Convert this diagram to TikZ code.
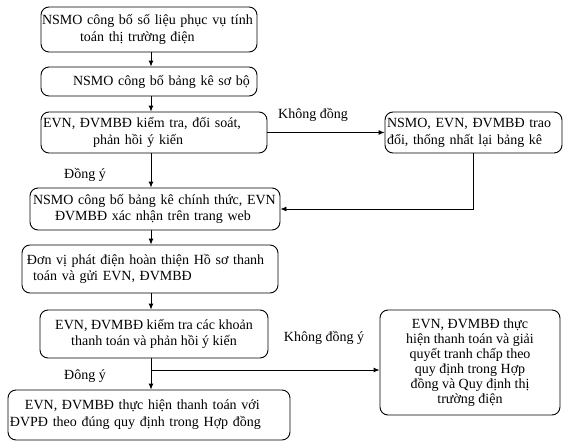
\documentclass[tikz,border=0pt]{standalone}
\usepackage{fontspec}
\setmainfont{Liberation Serif}
\usetikzlibrary{arrows.meta}
\newcommand{\tl}[2]{\hspace*{#1pt}\mbox{#2}}
\begin{document}
\begin{tikzpicture}[x=1pt,y=-1pt,
  box/.style={draw, line width=0.9pt, rounded corners=8pt, inner xsep=1pt, inner ysep=1pt,
    font=\fontsize{14}{16.8}\selectfont, align=center},
  lbox/.style={box, align=left},
  conn/.style={line width=0.9pt, -{Latex[length=6pt,width=5pt]}},
  lbl/.style={font=\fontsize{14}{17}\selectfont, inner sep=0pt}]
\useasboundingbox (0,0) rectangle (576,447);
\node[lbox, minimum width=216pt, minimum height=45pt, text width=214pt] (b1) at (149,29.5)
  {\tl{0}{NSMO công bố số liệu phục vụ tính}\\\tl{38}{toán thị trường điện}};
\node[lbox, minimum width=216pt, minimum height=29pt, text width=214pt] (b2) at (149,81.5)
  {\tl{31}{NSMO công bố bảng kê sơ bộ}};
\node[lbox, minimum width=226pt, minimum height=41pt, text width=224pt] (b3) at (154,132.5)
  {\tl{1}{EVN, ĐVMBĐ kiểm tra, đối soát,}\\\tl{51}{phản hồi ý kiến}};
\node[lbox, minimum width=177pt, minimum height=41pt, text width=175pt] (b4) at (473.5,132.5)
  {\tl{1}{NSMO, EVN, ĐVMBĐ trao}\\\tl{1}{đổi, thống nhất lại bảng kê}};
\node[lbox, minimum width=250pt, minimum height=42pt, text width=248pt] (b5) at (155,209)
  {\tl{2}{NSMO công bố bảng kê chính thức, EVN}\\\tl{24}{ĐVMBĐ xác nhận trên trang web}};
\node[lbox, minimum width=256pt, minimum height=48pt, text width=254pt] (b6) at (150,269)
  {\tl{4}{Đơn vị phát điện hoàn thiện Hồ sơ thanh}\\\tl{10}{toán và gửi EVN, ĐVMBĐ}};
\node[box, minimum width=228pt, minimum height=48pt] (b7) at (154,334)
  {EVN, ĐVMBĐ kiểm tra các khoản\\thanh toán và phản hồi ý kiến};
\node[lbox, minimum width=282pt, minimum height=50pt, text width=280pt] (b8) at (149,415)
  {\tl{16}{EVN, ĐVMBĐ thực hiện thanh toán với}\\\tl{1}{ĐVPĐ theo đúng quy định trong Hợp đồng}};
\node[box, minimum width=180pt, minimum height=105pt, font=\fontsize{14}{15}\selectfont] (b9) at (470,362.5)
  {EVN, ĐVMBĐ thực\\hiện thanh toán và giải\\quyết tranh chấp theo\\quy định trong Hợp\\đồng và Quy định thị\\trường điện};
\coordinate (ax) at (151,0);
\coordinate (br) at (151,370);
\draw[conn] (b1.south -| ax) -- (b2.north -| ax);
\draw[conn] (b2.south -| ax) -- (b3.north -| ax);
\draw[conn] (b3.south -| ax) -- (b5.north -| ax);
\draw[conn] (b5.south -| ax) -- (b6.north -| ax);
\draw[conn] (b6.south -| ax) -- (b7.north -| ax);
\draw[conn] (b7.south -| ax) -- (b8.north -| ax);
\draw[conn] (br) -- (br -| b9.west);
\draw[conn] (b3.east) -- (b4.west);
\draw[conn] (b4.south) |- (b5.east);
\node[lbl, anchor=west] (l1) at (278,115) {Không đồng};
\node[lbl] (l2) at (85,175) {Đồng ý};
\node[lbl] (l3) at (85,376) {Đông ý};
\node[lbl] (l4) at (324,338) {Không đồng ý};
\end{tikzpicture}
\end{document}
